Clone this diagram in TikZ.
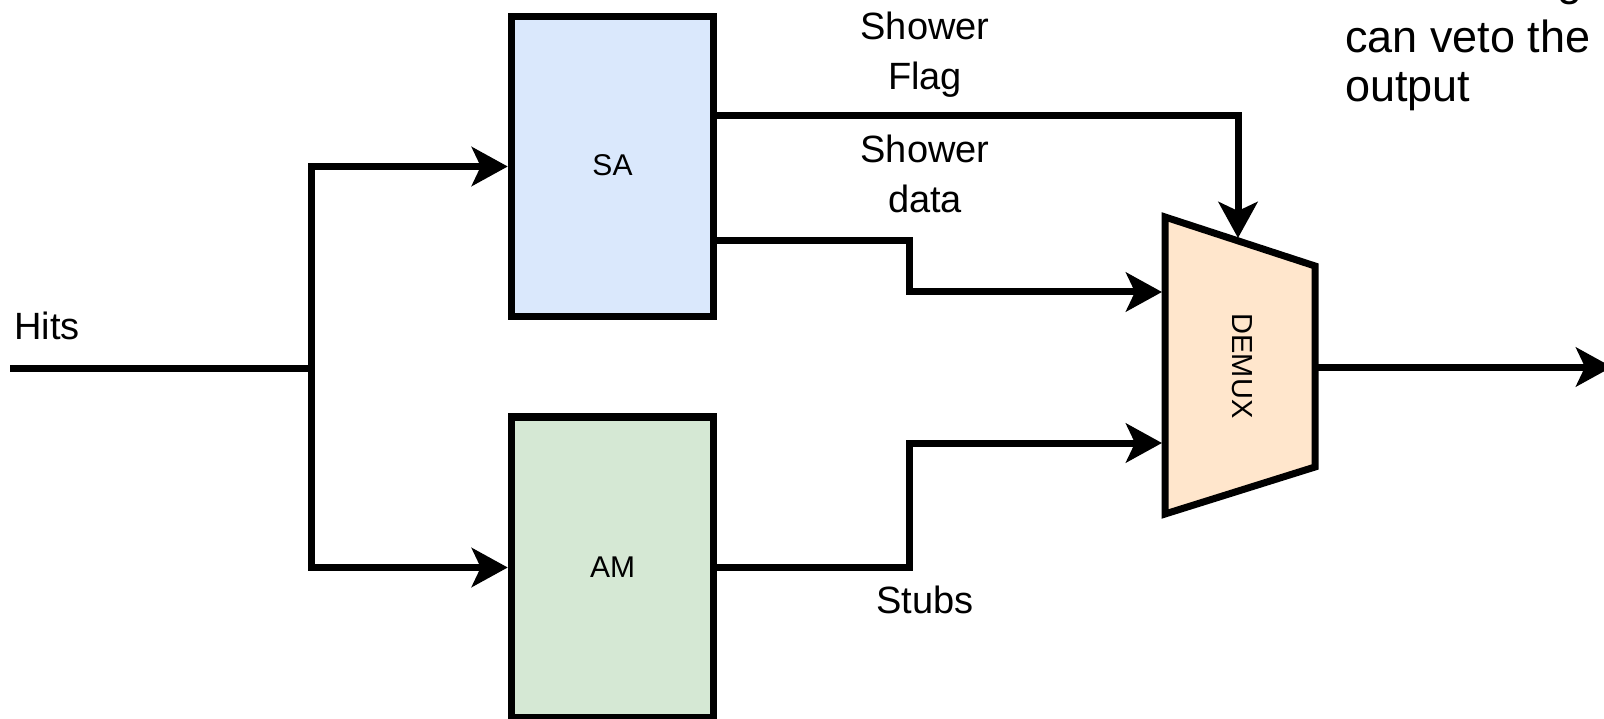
\documentclass[tikz,border=0pt]{standalone}
\usepackage{fontspec}
\setmainfont{Liberation Sans}
\usetikzlibrary{arrows.meta}
\definecolor{sablue}{HTML}{DAE8FC}
\definecolor{amgreen}{HTML}{D5E8D4}
\definecolor{muxorange}{HTML}{FFE6CC}
\begin{document}
\begin{tikzpicture}[x=1pt,y=-1pt,
  wire/.style={line width=7pt},
  arr/.style={wire,-{Stealth[length=36pt,width=39pt,inset=9pt]}},
  block/.style={draw,line width=7.5pt,minimum width=202pt,inner sep=0pt,font=\fontsize{30}{36}\selectfont},
  lbl/.style={font=\fontsize{38}{46}\selectfont,inner sep=0pt,anchor=base},
  note/.style={font=\fontsize{45}{54}\selectfont,inner sep=0pt,anchor=base west},
]
\useasboundingbox (0,0) rectangle (1604,719);

% blocks
\node[block,fill=sablue,minimum height=300pt] (SA) at (612.5,166.5) {\raisebox{3pt}{SA}};
\node[block,fill=amgreen,minimum height=301pt] (AM) at (612.5,567.5) {AM};
\draw[line width=7pt,fill=muxorange] (1165,217) -- (1315,266) -- (1315,467) -- (1165,514) -- cycle;
\node[rotate=-90,font=\fontsize{29}{35}\selectfont,inner sep=0pt] (mux) at (1242,366) {DEMUX};

% coordinates
\coordinate (hitsin) at (10,368);
\coordinate (split) at (311,368);
\coordinate (flagy) at (0,116);
\coordinate (datay) at (0,241);
\coordinate (flagend) at (1238,238);
\coordinate (jogA) at (909,292);
\coordinate (muxinA) at (1162,292);
\coordinate (jogB) at (909,443);
\coordinate (muxinB) at (1162,443);
\coordinate (muxout) at (1315,367);
\coordinate (outend) at (1612,367);

% connectors
\draw[wire] (hitsin) -- (split);
\draw[arr] (split) |- (SA.west);
\draw[arr] (split) |- (AM.west);
\draw[arr] (SA.east |- flagy) -| (flagend);
\draw[arr] (SA.east |- datay) -| (jogA) -- (muxinA);
\draw[arr] (AM.east) -| (jogB) -- (muxinB);
\draw[arr] (muxout) -- (outend);

% labels
\node[lbl] (flagA) at (925,40) {Shower};
\node[lbl] (flagB) at (925,90) {Flag};
\node[lbl] (dataA) at (925,163) {Shower};
\node[lbl] (dataB) at (925,213) {data};
\node[lbl] (stubs) at (925,613) {Stubs};
\node[lbl,anchor=base west] (hits) at (14,340) {Hits};

% note (top line cut by the page edge)
\node[note] (note0) at (1345,-4) {Shower flag};
\node[note] (note1) at (1345,53) {can veto the};
\node[note] (note2) at (1345,102) {output};
\end{tikzpicture}
\end{document}
